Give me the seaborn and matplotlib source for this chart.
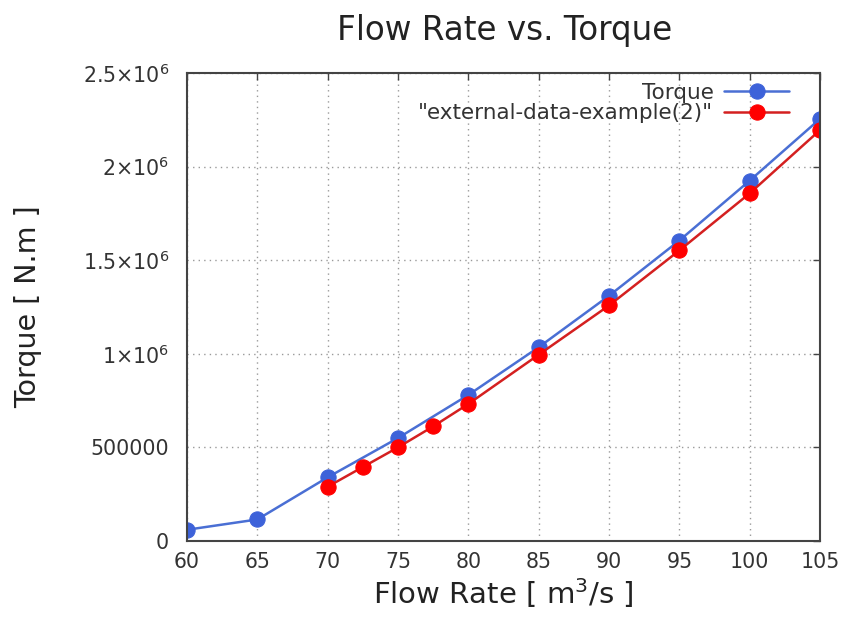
import matplotlib
matplotlib.use("Agg")
import matplotlib.pyplot as plt
import seaborn as sns
import pandas as pd

# ---- data ----
torque_x = [60, 65, 70, 75, 80, 85, 90, 95, 100, 105]
torque_y = [60000, 115000, 340000, 550000, 780000, 1035000, 1310000, 1605000, 1925000, 2255000]
ext_x = [70, 72.5, 75, 77.5, 80, 85, 90, 95, 100, 105]
ext_y = [290000, 395000, 500000, 612000, 732000, 995000, 1258000, 1552000, 1857000, 2195000]
x_ticks = [60, 65, 70, 75, 80, 85, 90, 95, 100, 105]
y_ticks = [0, 500000, 1000000, 1500000, 2000000, 2500000]
y_tick_labels = ["0", "500000", r"1$\times$10$^6$", r"1.5$\times$10$^6$",
                 r"2$\times$10$^6$", r"2.5$\times$10$^6$"]
series_names = ["Torque", '"external-data-example(2)"']

sns.set_theme(style="white")
plt.rcParams['font.family'] = ['DejaVu Sans']
plt.rcParams['mathtext.fontset'] = 'dejavusans'
plt.rcParams['mathtext.default'] = 'regular'

fig = plt.figure(figsize=(8.48, 6.17), dpi=100)
ax = fig.add_axes([0.2205, 0.1232, 0.7465, 0.7585])

df1 = pd.DataFrame({"x": torque_x, "y": torque_y})
df2 = pd.DataFrame({"x": ext_x, "y": ext_y})

sns.lineplot(data=df1, x="x", y="y", ax=ax, color="#4a6fd4", linewidth=1.8,
             marker="o", markersize=11, markerfacecolor="#3d62d9",
             markeredgecolor="#3d62d9", label=series_names[0])
sns.lineplot(data=df2, x="x", y="y", ax=ax, color="#d42020", linewidth=1.8,
             marker="o", markersize=11, markerfacecolor="#ff0000",
             markeredgecolor="#ff0000", label=series_names[1])

ax.set_xlim(60, 105)
ax.set_ylim(0, 2500000)
ax.set_xticks(x_ticks)
ax.set_yticks(y_ticks)
ax.set_yticklabels(y_tick_labels)

ax.grid(True, linestyle=(0, (1, 3)), color="#9a9a9a", linewidth=1)
ax.tick_params(axis="both", which="both", direction="in", length=5, width=1,
               top=True, right=True, labelsize=14.8, labelcolor="#333333",
               color="#444444")
ax.tick_params(axis="y", pad=13)
ax.tick_params(axis="x", pad=8)
for s in ax.spines.values():
    s.set_color("#444444")
    s.set_linewidth(1.5)
    s.set_visible(True)

ax.set_xlabel("Flow Rate [ m$^3$/s ]", fontsize=21, color="#222222", labelpad=3)
ax.set_ylabel("Torque [ N.m ]", fontsize=20.5, color="#222222", labelpad=29)
fig.suptitle("Flow Rate vs. Torque", fontsize=23.5, color="#222222", x=0.595, y=0.977)

leg = ax.legend(loc="upper right", frameon=False, markerfirst=False, fontsize=15.5,
                handlelength=3.0, labelspacing=0.02, borderaxespad=0.25,
                handletextpad=0.5, borderpad=0.2)
leg.set_bbox_to_anchor((0.966, 1.0), transform=ax.transAxes)
for t in leg.get_texts():
    t.set_color("#333333")

fig.savefig("out.png", dpi=100)
